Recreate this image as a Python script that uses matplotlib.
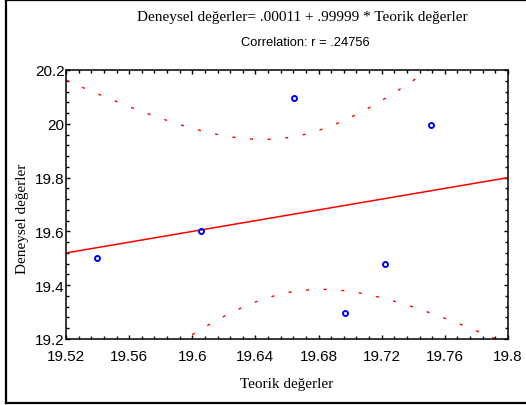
import numpy as np
import matplotlib
matplotlib.use("Agg")
import matplotlib.pyplot as plt
from matplotlib.ticker import MultipleLocator, FuncFormatter
from matplotlib.lines import Line2D

# data
teorik = [19.5396, 19.6055, 19.6644, 19.6967, 19.7221, 19.7512]
deneysel = [19.50, 19.60, 20.095, 19.295, 19.478, 19.997]
intercept = 0.00011
slope = 0.99999
t_mult = 2.06
x_ticks = [19.52, 19.56, 19.60, 19.64, 19.68, 19.72, 19.76, 19.80]
y_ticks = [19.2, 19.4, 19.6, 19.8, 20.0, 20.2]
title1 = "Deneysel değerler= .00011 + .99999 * Teorik değerler"
title2 = "Correlation: r = .24756"
xlabel = "Teorik değerler"
ylabel = "Deneysel değerler"

W, H = 526, 406
fig = plt.figure(figsize=(W / 100, H / 100), dpi=100)
ax = fig.add_axes([66 / W, 1 - 340 / H, (508 - 66) / W, (340 - 71) / H])

x = np.array(teorik)
y = np.array(deneysel)
n = len(x)
xs = np.linspace(x_ticks[0], x_ticks[-1], 300)
yfit = intercept + slope * xs
res = y - (intercept + slope * x)
s = np.sqrt(np.sum(res ** 2) / (n - 2))
sxx = np.sum((x - x.mean()) ** 2)
hw = t_mult * s * np.sqrt(1 / n + (xs - x.mean()) ** 2 / sxx)

ax.plot(xs, yfit, color="#ff0000", lw=1.1)
ax.plot(xs, yfit + hw, color="#ff0000", lw=1.0, linestyle=(0, (2.2, 10.5)))
ax.plot(xs, yfit - hw, color="#ff0000", lw=1.0, linestyle=(0, (2.2, 10.5)))
ax.plot(x, y, linestyle="none", marker="o", markersize=3.6, markerfacecolor="none",
        markeredgecolor="#0000ff", markeredgewidth=1.4)

ax.set_xlim(x_ticks[0], x_ticks[-1])
ax.set_ylim(y_ticks[0], y_ticks[-1])
ax.set_xticks(x_ticks)
ax.set_yticks(y_ticks)
ax.xaxis.set_minor_locator(MultipleLocator(0.008))
ax.yaxis.set_minor_locator(MultipleLocator(0.04))


def fmt(v, pos):
    s_ = ("%.2f" % v).rstrip("0").rstrip(".")
    return s_


ax.xaxis.set_major_formatter(FuncFormatter(fmt))
ax.yaxis.set_major_formatter(FuncFormatter(fmt))

for sp in ax.spines.values():
    sp.set_linewidth(1.1)
ax.tick_params(which="both", direction="in", top=True, right=True, width=1.0)
ax.tick_params(which="major", length=3.0)
ax.tick_params(which="minor", length=2.0)
ax.tick_params(axis="x", which="major", pad=7, labelsize=11)
ax.tick_params(axis="y", which="major", pad=1, labelsize=11)
for lab in ax.get_xticklabels() + ax.get_yticklabels():
    lab.set_fontfamily("Liberation Sans")

ax.set_xlabel(xlabel, fontfamily="Liberation Serif", fontsize=11)
ax.xaxis.set_label_coords(0.5, -(385 - 340) / 269)
ax.xaxis.label.set_va("center")
ax.set_ylabel(ylabel, fontfamily="Liberation Serif", fontsize=11)
ax.yaxis.set_label_coords(-(66 - 22) / 442, (340 - 219) / 269)
ax.yaxis.label.set_va("center")

fig.text(302 / W, 1 - 18 / H, title1, ha="center", va="center",
         fontfamily="Liberation Serif", fontsize=11)
fig.text(305 / W, 1 - 43 / H, title2, ha="center", va="center",
         fontfamily="Liberation Sans", fontsize=9.3)

# outer frame (left, top, bottom)
kw = dict(color="black", lw=1.6, transform=fig.transFigure)
fig.add_artist(Line2D([6 / W, 6 / W], [1 - 1 / H, 1 - 403.5 / H], **kw))
fig.add_artist(Line2D([6 / W, 1], [1 - 1 / H, 1 - 1 / H], **kw))
fig.add_artist(Line2D([6 / W, 1], [1 - 403.5 / H, 1 - 403.5 / H], **kw))

fig.savefig("out.png", dpi=100)
